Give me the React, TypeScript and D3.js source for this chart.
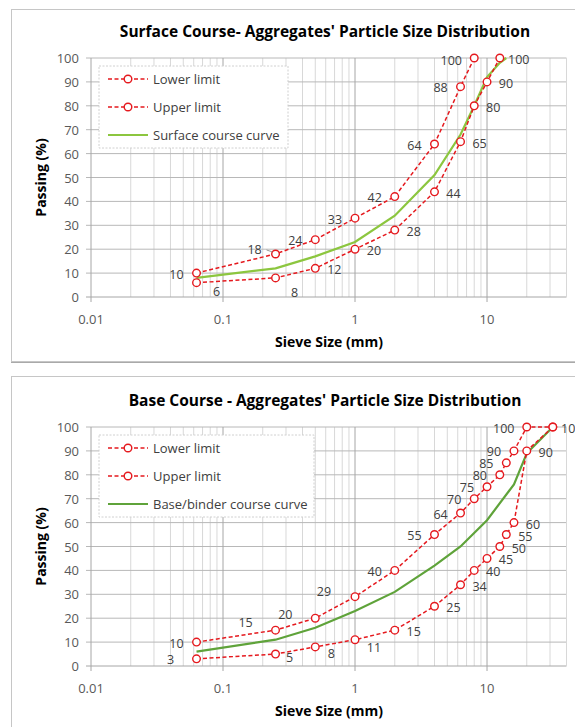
import React from 'react';
import * as d3 from 'd3';

// sieve sizes (mm) and passing (%)
const SURF_LOWER_SIZES = [0.063, 0.25, 0.5, 1, 2, 4, 6.3, 8, 10, 12.5];
const SURF_LOWER = [6, 8, 12, 20, 28, 44, 65, 80, 90, 100];
const SURF_UPPER_SIZES = [0.063, 0.25, 0.5, 1, 2, 4, 6.3, 8];
const SURF_UPPER = [10, 18, 24, 33, 42, 64, 88, 100];
const SURF_CURVE_SIZES = [0.063, 0.25, 0.5, 1, 2, 4, 6.3, 8, 10, 12.5, 14];
const SURF_CURVE = [8, 12, 17, 23, 34, 51, 68, 80, 92, 98, 100];

const BASE_SIZES = [0.063, 0.25, 0.5, 1, 2, 4, 6.3, 8, 10, 12.5, 14, 16, 20, 31.5];
const BASE_LOWER = [3, 5, 8, 11, 15, 25, 34, 40, 45, 50, 55, 60, 90, 100];
const BASE_UPPER = [10, 15, 20, 29, 40, 55, 64, 70, 75, 80, 85, 90, 100, 100];
const BASE_CURVE_SIZES = [0.063, 0.25, 0.5, 1, 2, 4, 6.3, 10, 16, 20, 31.5];
const BASE_CURVE = [6, 11, 16, 23, 31, 42, 50, 61, 76, 89, 100];

const Y_TICKS = [0, 10, 20, 30, 40, 50, 60, 70, 80, 90, 100];
const X_TICKS = [0.01, 0.1, 1, 10];

const W = 575;
const H = 727;
const RED = '#e5191e';
const FONT = "'Open Sans', 'DejaVu Sans', sans-serif";

// label nudges (dx, dy) for the few labels that are not simply left/right of their marker
type Nudge = Record<number, [number, number]>;

type ChartProps = {
  oy: number;
  title: string;
  lowerSizes: number[];
  lower: number[];
  upperSizes: number[];
  upper: number[];
  curveSizes: number[];
  curve: number[];
  curveName: string;
  curveColor: string;
  legendW: number;
  lowerNudge: Nudge;
  upperNudge: Nudge;
  upperHidden: number[];
  leader?: number;
};

const MINOR = (() => {
  const out: number[] = [];
  for (let e = -2; e <= 1; e++) {
    for (let m = 2; m <= 9; m++) {
      const v = m * Math.pow(10, e);
      if (v <= 40) out.push(v);
    }
  }
  return out;
})();

const Chart: React.FC<ChartProps> = (p) => {
  const x = d3.scaleLog().domain([0.01, 40]).range([91, 566.5]);
  const y = d3.scaleLinear().domain([0, 100]).range([p.oy + 297, p.oy + 58]);
  const line = d3.line<[number, number]>().x(d => x(d[0])).y(d => y(d[1]));
  const lowerPts = p.lowerSizes.map((s, i) => [s, p.lower[i]] as [number, number]);
  const upperPts = p.upperSizes.map((s, i) => [s, p.upper[i]] as [number, number]);
  const curvePts = p.curveSizes.map((s, i) => [s, p.curve[i]] as [number, number]);
  const [x0, x1] = x.range();
  const [yb, yt] = y.range();
  const lx = 99;
  const ly = p.oy + 66;

  return (
    <g fontFamily={FONT}>
      <text x={325} y={p.oy + 31} textAnchor="middle" dominantBaseline="central"
        fontSize={15.5} fontWeight={700} fill="#000">{p.title}</text>

      {MINOR.map(v => (
        <line key={'m' + v} x1={x(v)} x2={x(v)} y1={yt} y2={yb} stroke="#d8d8d8" strokeWidth={1} />
      ))}
      {Y_TICKS.map(t => (
        <line key={'h' + t} x1={x0 - 5} x2={x1} y1={y(t)} y2={y(t)}
          stroke={t === 0 ? '#a6a6a6' : '#b8b8b8'} strokeWidth={1} />
      ))}
      {X_TICKS.map(t => (
        <line key={'v' + t} x1={x(t)} x2={x(t)} y1={yt} y2={yb + 5} stroke="#a6a6a6" strokeWidth={1} />
      ))}
      <line x1={x1} x2={x1} y1={yt} y2={yb} stroke="#d8d8d8" />

      {Y_TICKS.map(t => (
        <text key={'yt' + t} x={79} y={y(t)} textAnchor="end" dominantBaseline="central"
          fontSize={13} fill="#595959">{t}</text>
      ))}
      {X_TICKS.map(t => (
        <text key={'xt' + t} x={x(t)} y={yb + 22} textAnchor="middle" dominantBaseline="central"
          fontSize={13} fill="#595959">{t}</text>
      ))}
      <text x={329} y={yb + 44} textAnchor="middle" dominantBaseline="central"
        fontSize={14} fontWeight={700} fill="#000">Sieve Size (mm)</text>
      <text transform={`translate(40,${(yt + yb) / 2}) rotate(-90)`} textAnchor="middle"
        dominantBaseline="central" fontSize={14} fontWeight={700} fill="#000">Passing (%)</text>

      <path d={line(curvePts) || ''} fill="none" stroke={p.curveColor} strokeWidth={2.2} />
      <path d={line(lowerPts) || ''} fill="none" stroke={RED} strokeWidth={1.5} strokeDasharray="4,2.5" />
      <path d={line(upperPts) || ''} fill="none" stroke={RED} strokeWidth={1.5} strokeDasharray="4,2.5" />
      {[...lowerPts, ...upperPts].map((d, i) => (
        <circle key={'c' + i} cx={x(d[0])} cy={y(d[1])} r={3.8} fill="#fff" stroke={RED} strokeWidth={1.4} />
      ))}

      {upperPts.map((d, i) => {
        if (p.upperHidden.includes(i)) return null;
        const [dx, dy] = p.upperNudge[i] || [-20, 1];
        return (
          <text key={'ul' + i} x={x(d[0]) + dx} y={y(d[1]) + dy} textAnchor="middle"
            dominantBaseline="central" fontSize={12.5} fill="#404040">{d[1]}</text>
        );
      })}
      {lowerPts.map((d, i) => {
        const [dx, dy] = p.lowerNudge[i] || [19, 1.5];
        return (
          <text key={'ll' + i} x={x(d[0]) + dx} y={y(d[1]) + dy} textAnchor="middle"
            dominantBaseline="central" fontSize={12.5} fill="#404040">{d[1]}</text>
        );
      })}
      {p.leader !== undefined && (
        <line x1={x(upperPts[p.leader][0]) - 9} x2={x(upperPts[p.leader][0]) - 3}
          y1={y(upperPts[p.leader][1]) - 4} y2={y(upperPts[p.leader][1]) - 2}
          stroke="#7f7f7f" strokeWidth={0.8} />
      )}

      <rect x={lx} y={ly} width={p.legendW} height={82} fill="#fff" stroke="#d0d0d0"
        strokeDasharray="2,1.5" strokeWidth={1} />
      {['Lower limit', 'Upper limit', p.curveName].map((name, i) => {
        const cy = ly + 13 + i * 28;
        const isCurve = i === 2;
        return (
          <g key={'lg' + i}>
            <line x1={lx + 9} x2={lx + 49} y1={cy} y2={cy}
              stroke={isCurve ? p.curveColor : RED} strokeWidth={isCurve ? 2.2 : 1.5}
              strokeDasharray={isCurve ? undefined : '4,2.5'} />
            {!isCurve && <circle cx={lx + 29} cy={cy} r={3.8} fill="#fff" stroke={RED} strokeWidth={1.4} />}
            <text x={lx + 54} y={cy} dominantBaseline="central" fontSize={13} fill="#404040">{name}</text>
          </g>
        );
      })}
    </g>
  );
};

export default function App() {
  return (
    <svg width={W} height={H} style={{ position: 'absolute', left: 0, top: 0, background: '#fff' }}>
      <rect x={0} y={0} width={W} height={H} fill="#fff" />
      <rect x={11.5} y={9.5} width={600} height={352} fill="#fff" stroke="#c6c6c6" />
      <line x1={11} x2={600} y1={362.5} y2={362.5} stroke="#a9a9a9" />
      <rect x={11.5} y={376.5} width={600} height={400} fill="#fff" stroke="#c6c6c6" />
      <Chart
        oy={0}
        title="Surface Course- Aggregates' Particle Size Distribution"
        lowerSizes={SURF_LOWER_SIZES}
        lower={SURF_LOWER}
        upperSizes={SURF_UPPER_SIZES}
        upper={SURF_UPPER}
        curveSizes={SURF_CURVE_SIZES}
        curve={SURF_CURVE}
        curveName="Surface course curve"
        curveColor="#8cc63f"
        legendW={189}
        lowerNudge={{ 0: [20, 9], 1: [19, 15] }}
        upperNudge={{ 1: [-21, -4], 7: [-23, 2] }}
        upperHidden={[]}
        leader={1}
      />
      <Chart
        oy={369}
        title="Base Course - Aggregates' Particle Size Distribution"
        lowerSizes={BASE_SIZES}
        lower={BASE_LOWER}
        upperSizes={BASE_SIZES}
        upper={BASE_UPPER}
        curveSizes={BASE_CURVE_SIZES}
        curve={BASE_CURVE}
        curveName="Base/binder course curve"
        curveColor="#5fa33a"
        legendW={215}
        lowerNudge={{ 0: [-26, 1], 1: [14, 3], 2: [16, 7], 3: [19, 8] }}
        upperNudge={{ 1: [-30, -8], 2: [-30, -4], 3: [-31, -5], 12: [-23, 1] }}
        upperHidden={[13]}
      />
    </svg>
  );
}
